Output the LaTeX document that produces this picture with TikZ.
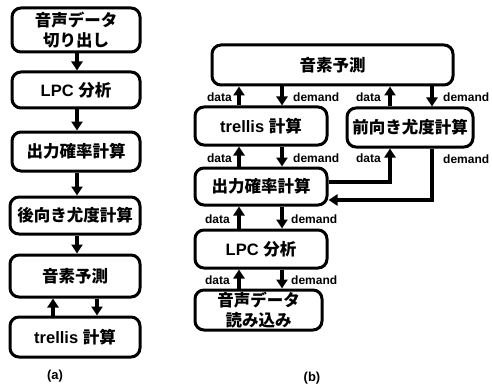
\documentclass[tikz,border=0pt]{standalone}
\usepackage{fontspec}
\setmainfont{Liberation Sans}
\newfontfamily\jp{Noto Sans CJK JP}
\usetikzlibrary{arrows.meta}
\begin{document}
\begin{tikzpicture}[x=1pt,y=-1pt,
  box/.style={draw, line width=3pt, rounded corners=9pt, align=center, inner sep=0pt,
    font=\fontsize{16.5}{20}\selectfont\bfseries},
  arr/.style={line width=3.2pt, -{Triangle[length=9pt,width=11pt]}},
  lbl/.style={font=\fontsize{12}{13}\selectfont\bfseries, inner sep=0pt},
  figcap/.style={font=\fontsize{13}{15}\selectfont\bfseries, inner sep=0pt}]
\useasboundingbox[fill=white] (0,0) rectangle (492,385);

% ---------- (a) ----------
\node[box, minimum width=128pt, minimum height=44pt] (B1) at (76,30) {{\jp 音声データ}\\{\jp 切り出し}};
\node[box, minimum width=128pt, minimum height=36pt] (B2) at (76,90) {LPC {\jp 分析}};
\node[box, minimum width=128pt, minimum height=39pt] (B3) at (76,151.5) {\jp 出力確率計算};
\node[box, minimum width=130pt, minimum height=37pt] (B4) at (75,215.5) {\jp 後向き尤度計算};
\node[box, minimum width=130pt, minimum height=42pt] (B5) at (75,276) {\jp 音素予測};
\node[box, minimum width=130pt, minimum height=40pt] (B6) at (75,337) {trellis {\jp 計算}};
\node[figcap] (ca) at (55,376) {(a)};

\coordinate (la) at (77,0);
\coordinate (lu) at (53,0);
\coordinate (ld) at (97,0);
\draw[arr] (B1.south-|la) -- (B2.north-|la);
\draw[arr] (B2.south-|la) -- (B3.north-|la);
\draw[arr] (B3.south-|la) -- (B4.north-|la);
\draw[arr] (B4.south-|la) -- (B5.north-|la);
\draw[arr] (B6.north-|lu) -- (B5.south-|lu);
\draw[arr] (B5.south-|ld) -- (B6.north-|ld);

% ---------- (b) ----------
\node[box, minimum width=241pt, minimum height=40pt] (P) at (332.5,65) {\jp 音素予測};
\node[box, minimum width=132pt, minimum height=38pt] (T) at (261,126) {trellis {\jp 計算}};
\node[box, minimum width=126pt, minimum height=39pt] (F) at (410,127.5) {\jp 前向き尤度計算};
\node[box, minimum width=132pt, minimum height=37pt] (O) at (261,186.5) {\jp 出力確率計算};
\node[box, minimum width=132pt, minimum height=38pt] (L) at (261,249) {LPC {\jp 分析}};
\node[box, minimum width=127pt, minimum height=40pt] (S) at (258.5,310) {{\jp 音声データ}\\{\jp 読み込み}};
\node[figcap] (cb) at (312,378) {(b)};

\coordinate (xa) at (239,0);
\coordinate (xb) at (282,0);
\coordinate (xd) at (390,0);
\coordinate (xe) at (432,0);
\coordinate (yd) at (0,182);
\coordinate (ye) at (0,200);

\draw[arr] (T.north-|xa) -- (P.south-|xa);
\draw[arr] (P.south-|xb) -- (T.north-|xb);
\draw[arr] (F.north-|xd) -- (P.south-|xd);
\draw[arr] (P.south-|xe) -- (F.north-|xe);
\draw[arr] (O.north-|xa) -- (T.south-|xa);
\draw[arr] (T.south-|xb) -- (O.north-|xb);
\draw[arr] (L.north-|xa) -- (O.south-|xa);
\draw[arr] (O.south-|xb) -- (L.north-|xb);
\draw[arr] (S.north-|xa) -- (L.south-|xa);
\draw[arr] (L.south-|xb) -- (S.north-|xb);
\draw[arr] (O.east|-yd) -| (F.south-|xd);
\draw[arr] (F.south-|xe) |- (O.east|-ye);

% labels
\node[lbl, anchor=east] (d1) at (232,97) {data};
\node[lbl, anchor=west] (m1) at (293,97) {demand};
\node[lbl, anchor=east] (d2) at (381,97) {data};
\node[lbl, anchor=west] (m2) at (443,97) {demand};
\node[lbl, anchor=east] (d3) at (232,158) {data};
\node[lbl, anchor=west] (m3) at (293,158) {demand};
\node[lbl, anchor=east] (d4) at (381,158) {data};
\node[lbl, anchor=west] (m4) at (443,159) {demand};
\node[lbl, anchor=east] (d5) at (230,219) {data};
\node[lbl, anchor=west] (m5) at (291,219) {demand};
\node[lbl, anchor=east] (d6) at (230,280) {data};
\node[lbl, anchor=west] (m6) at (291,280) {demand};
\end{tikzpicture}
\end{document}
